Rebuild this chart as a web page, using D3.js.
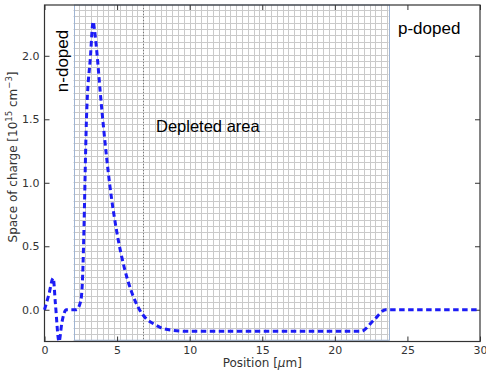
<!DOCTYPE html>
<html>
<head>
<meta charset="utf-8">
<script src="https://cdn.jsdelivr.net/npm/d3@7"></script>
<style>
  body { margin: 0; background: #fff; }
  svg { display: block; }
  .tick text { font-family: "DejaVu Sans", sans-serif; font-size: 11px; fill: #333; }
  .label { font-family: "DejaVu Sans", sans-serif; font-size: 12px; fill: #333; }
  .note { font-family: "Liberation Sans", Arial, sans-serif; fill: #000; }
</style>
</head>
<body>
<script>
// charge profile, [position um, charge 1e15 cm^-3]
let posData = [0, 0.3, 0.6, 0.75, 1.0, 1.2, 1.5, 2.2, 2.5, 2.65, 2.7, 2.89, 3.17, 3.35, 3.45, 3.63, 3.85, 4.08, 4.5, 5.0, 5.5, 6.0, 6.5, 7.0, 7.5, 8.0, 8.7, 10, 21.8, 22.7, 23.5, 30];
let chargeData = [0, 0.12, 0.25, 0.05, -0.25, -0.1, 0, 0, 0.07, 0.34, 0.55, 1.5, 2.0, 2.27, 2.2, 2.0, 1.7, 1.42, 0.98, 0.6, 0.33, 0.14, 0.01, -0.07, -0.11, -0.14, -0.16, -0.17, -0.17, -0.08, 0, 0];

let xTicks = [0, 5, 10, 15, 20, 25, 30];
let yTicks = [0, 0.5, 1.0, 1.5, 2.0];

let meshX = [2, 23.7];       // depleted mesh span
let meshY = [-0.24, 2.4];
let meshStepX = 0.4;
let meshStepY = 0.05;
let junction = 6.77;

let width = 486, height = 371;
let mLeft = 44.5, mRight = 480, mTop = 5, mBottom = 341.5;

let scaleX = d3.scaleLinear().domain([0, 30]).range([mLeft, mRight]);
let scaleY = d3.scaleLinear().domain([-0.25, 2.4]).range([mBottom, mTop]);

let svg = d3.select("body").append("svg")
  .attr("width", width)
  .attr("height", height);

// mesh grid
let mesh = svg.append("g").attr("class", "g-mesh");
let gx = d3.range(meshX[0], meshX[1], meshStepX);
let gy = d3.range(meshY[0], meshY[1], meshStepY);

mesh.selectAll("line.v").data(gx).join("line")
  .attr("class", "v")
  .attr("x1", d => Math.round(scaleX(d)) + 0.5).attr("x2", d => Math.round(scaleX(d)) + 0.5)
  .attr("y1", scaleY(meshY[1])).attr("y2", scaleY(meshY[0]))
  .attr("stroke", "#cacaca").attr("stroke-width", 1);

mesh.selectAll("line.h").data(gy).join("line")
  .attr("class", "h")
  .attr("y1", d => Math.round(scaleY(d)) + 0.5).attr("y2", d => Math.round(scaleY(d)) + 0.5)
  .attr("x1", scaleX(meshX[0])).attr("x2", scaleX(meshX[1]))
  .attr("stroke", "#cacaca").attr("stroke-width", 1);

mesh.append("rect")
  .attr("x", Math.round(scaleX(meshX[0])) + 0.5)
  .attr("y", scaleY(meshY[1]))
  .attr("width", Math.round(scaleX(meshX[1]) - scaleX(meshX[0])))
  .attr("height", scaleY(meshY[0]) - scaleY(meshY[1]))
  .attr("fill", "none")
  .attr("stroke", "#9fb4d2")
  .attr("stroke-width", 1);

mesh.append("line")
  .attr("x1", Math.round(scaleX(junction)) + 0.5).attr("x2", Math.round(scaleX(junction)) + 0.5)
  .attr("y1", scaleY(meshY[1])).attr("y2", scaleY(meshY[0]))
  .attr("stroke", "#777").attr("stroke-width", 1)
  .attr("stroke-dasharray", "1,2");

// axes, ticks inward on all four sides
let axisB = d3.axisBottom(scaleX).tickValues(xTicks).tickFormat(d3.format("d")).tickSize(-5).tickPadding(5);
let axisT = d3.axisTop(scaleX).tickValues(xTicks).tickFormat("").tickSize(-5);
let axisL = d3.axisLeft(scaleY).tickValues(yTicks).tickFormat(d3.format(".1f")).tickSize(-5).tickPadding(5);
let axisR = d3.axisRight(scaleY).tickValues(yTicks).tickFormat("").tickSize(-5);

let axis = svg.append("g").attr("class", "g-axis");
axis.append("g").attr("transform", `translate(0, ${mBottom})`).call(axisB);
axis.append("g").attr("transform", `translate(0, ${mTop})`).call(axisT);
axis.append("g").attr("transform", `translate(${mLeft}, 0)`).call(axisL);
axis.append("g").attr("transform", `translate(${mRight}, 0)`).call(axisR);
axis.selectAll(".domain").remove();
axis.selectAll(".tick line").attr("stroke", "#333");

svg.append("rect")
  .attr("x", mLeft).attr("y", mTop)
  .attr("width", mRight - mLeft).attr("height", mBottom - mTop)
  .attr("fill", "none").attr("stroke", "#333").attr("stroke-width", 1.2);

// curve
let pts = posData.map((p, i) => [p, chargeData[i]]);
let line = d3.line().x(d => scaleX(d[0])).y(d => scaleY(d[1])).curve(d3.curveMonotoneX);

svg.append("path")
  .datum(pts)
  .attr("d", line)
  .attr("fill", "none")
  .attr("stroke", "#1c1cf5")
  .attr("stroke-width", 3)
  .attr("stroke-dasharray", "5.5,3.5");

// labels
svg.append("text").attr("class", "label")
  .attr("text-anchor", "middle")
  .attr("x", (mLeft + mRight) / 2).attr("y", 367)
  .html("Position [<tspan font-style='italic'>μ</tspan>m]");

svg.append("text").attr("class", "label")
  .attr("font-size", 12.5)
  .attr("text-anchor", "middle")
  .attr("transform", "translate(17, 157) rotate(-90)")
  .html("Space of charge [10<tspan dy='-5' font-size='8.5'>15</tspan><tspan dy='5'> cm</tspan><tspan dy='-5' font-size='8.5'>−3</tspan><tspan dy='5'>]</tspan>");

svg.append("text").attr("class", "note")
  .attr("font-size", 17)
  .attr("text-anchor", "middle")
  .attr("transform", "translate(68, 61) rotate(-90)")
  .text("n-doped");

svg.append("text").attr("class", "note")
  .attr("font-size", 17)
  .attr("x", 398).attr("y", 34)
  .text("p-doped");

svg.append("text").attr("class", "note")
  .attr("font-size", 16.5)
  .attr("x", 156).attr("y", 132)
  .text("Depleted area");
</script>
</body>
</html>
